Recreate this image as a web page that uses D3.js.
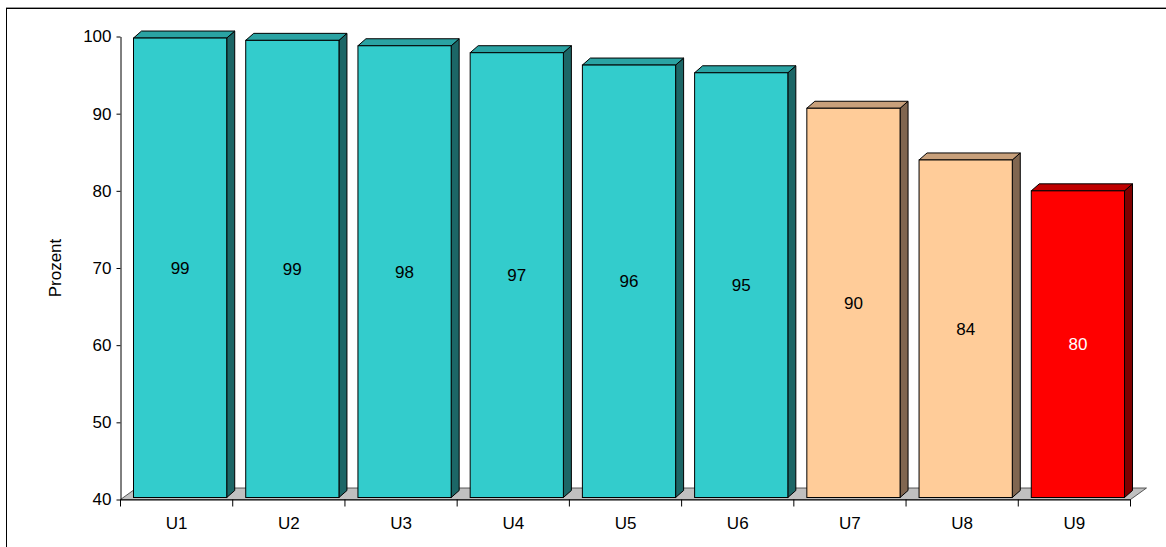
<!DOCTYPE html>
<html><head><meta charset="utf-8">
<script src="https://cdn.jsdelivr.net/npm/d3@7"></script>
<style>body{margin:0;background:#fff;}svg{display:block;font-family:"Liberation Sans",Arial,sans-serif;}</style>
</head><body>
<svg id="c" width="1166" height="547"></svg>
<script>
const categories = ["U1","U2","U3","U4","U5","U6","U7","U8","U9"];
const values = [99.8, 99.5, 98.8, 97.9, 96.3, 95.3, 90.7, 84.0, 80.0];
const labels = ["99","99","98","97","96","95","90","84","80"];
const groups = ["teal","teal","teal","teal","teal","teal","peach","peach","red"];
const yTicks = [40,50,60,70,80,90,100];

const palette = {
  teal:  {front:"#33CCCC", top:"#2AA3A3", side:"#1C6666", text:"#000"},
  peach: {front:"#FFCC99", top:"#C8A07B", side:"#806650", text:"#000"},
  red:   {front:"#FF0000", top:"#C00000", side:"#800000", text:"#fff"}
};
const FS = 17;
const FF = "Liberation Sans, Arial, sans-serif";

const svg = d3.select("#c");
// frame
svg.append("line").attr("x1",6).attr("x2",1166).attr("y1",7.5).attr("y2",7.5).attr("stroke","#999");
svg.append("line").attr("x1",6).attr("x2",1166).attr("y1",8.5).attr("y2",8.5).attr("stroke","#000");
svg.append("line").attr("x1",6.5).attr("x2",6.5).attr("y1",8).attr("y2",547).attr("stroke","#000");

const x = d3.scaleBand().domain(categories).range([120.5,1130.5]).padding(0);
const y = d3.scaleLinear().domain([40,100]).range([499.5,36.5]);

const fdx = 16, fdy = 11.5;
const x0 = x.range()[0], x1 = x.range()[1], yb = y(40);
// floor
svg.append("polygon")
  .attr("points", [[x0,yb],[x1,yb],[x1+fdx,yb-fdy],[x0+fdx,yb-fdy]].map(p=>p.join(",")).join(" "))
  .attr("fill","#C0C0C0").attr("stroke","#333").attr("stroke-width",0.8);

// y axis
const yAxis = svg.append("g").attr("transform",`translate(${x0},0)`)
  .call(d3.axisLeft(y).tickValues(yTicks).tickSize(4).tickSizeOuter(0));
yAxis.select(".domain").attr("stroke","#000");
yAxis.selectAll(".tick line").attr("stroke","#000");
yAxis.selectAll(".tick text").attr("font-size",FS).attr("fill","#000").attr("x",-9).attr("font-family",FF);

// x axis
const xAxis = svg.append("g").attr("transform",`translate(0,${yb})`)
  .call(d3.axisBottom(x).tickSize(0).tickPadding(17));
xAxis.select(".domain").attr("stroke","#000");
xAxis.selectAll(".tick text").attr("font-size",FS).attr("fill","#000").attr("font-family",FF);
const bounds = categories.map(c=>x(c)).concat([x1]);
svg.append("g").selectAll("line").data(bounds).join("line")
  .attr("x1",d=>d).attr("x2",d=>d).attr("y1",yb).attr("y2",yb+7).attr("stroke","#000");

// bars
const bdx = 8, bdy = 7, inset = 13, bw = x.bandwidth()-19, bottom = yb-2;
const bars = svg.append("g").selectAll("g").data(categories).join("g");
bars.each(function(c,i){
  const g = d3.select(this);
  const col = palette[groups[i]];
  const L = x(c)+inset, R = L+bw, T = y(values[i]);
  g.append("polygon").attr("points",[[R,T],[R+bdx,T-bdy],[R+bdx,bottom-bdy],[R,bottom]].map(p=>p.join(",")).join(" "))
    .attr("fill",col.side).attr("stroke","#000").attr("stroke-width",1).attr("stroke-linejoin","round");
  g.append("polygon").attr("points",[[L,T],[L+bdx,T-bdy],[R+bdx,T-bdy],[R,T]].map(p=>p.join(",")).join(" "))
    .attr("fill",col.top).attr("stroke","#000").attr("stroke-width",1).attr("stroke-linejoin","round");
  g.append("rect").attr("x",L).attr("y",T).attr("width",bw).attr("height",bottom-T)
    .attr("fill",col.front).attr("stroke","#000").attr("stroke-width",1);
  g.append("text").attr("x",L+bw/2).attr("y",(T+bottom)/2).attr("dy","0.35em")
    .attr("text-anchor","middle").attr("font-size",FS).attr("font-family",FF).attr("fill",col.text).text(labels[i]);
});

// y title
svg.append("text").attr("transform","translate(61,268) rotate(-90)").attr("text-anchor","middle")
  .attr("font-size",FS).attr("font-family",FF).attr("fill","#000").text("Prozent");
</script>
</body></html>
